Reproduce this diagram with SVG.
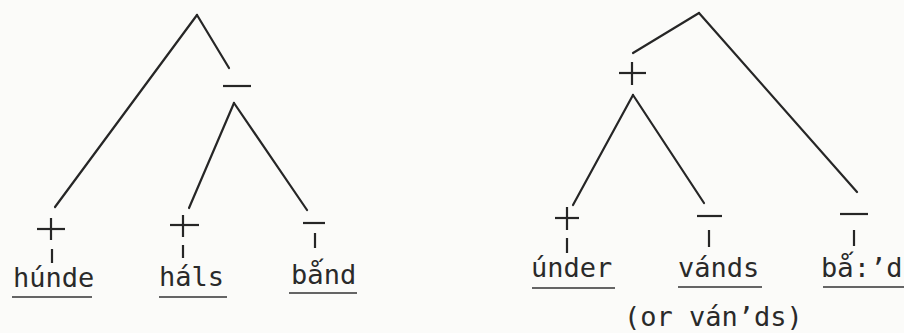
<svg xmlns="http://www.w3.org/2000/svg" width="904" height="333" viewBox="0 0 904 333">
<style>
.e{stroke:#262626;stroke-width:2.2;stroke-linecap:round;fill:none}
.m{stroke:#262626;stroke-width:2.2;stroke-linecap:butt;fill:none}
.u{stroke:#333;stroke-width:1.6;fill:none}
.t{font-family:"DejaVu Sans Mono","Liberation Mono",monospace;font-size:27px;fill:#2a2a2a}
.s{font-family:"DejaVu Sans","Noto Sans",sans-serif}
</style>
<rect width="904" height="333" fill="#fbfbf9"/>
<g id="connectors">
<line class="e" x1="197" y1="15" x2="55" y2="207"/>
<line class="e" x1="197" y1="15" x2="229" y2="68"/>
<line class="e" x1="234" y1="103" x2="189" y2="208"/>
<line class="e" x1="234" y1="103" x2="307" y2="210"/>
<line class="e" x1="699" y1="13" x2="633" y2="53"/>
<line class="e" x1="699" y1="13" x2="857" y2="192"/>
<line class="e" x1="633" y1="95" x2="573" y2="205"/>
<line class="e" x1="633" y1="95" x2="704" y2="203"/>
</g>
<g id="left-minus">
<line class="m" x1="223" y1="86" x2="251" y2="86"/>
</g>
<g id="hunde">
<line class="m" x1="37" y1="229" x2="65" y2="229"/>
<line class="m" x1="51" y1="218" x2="51" y2="240"/>
<line class="m" x1="52" y1="249" x2="52" y2="263"/>
<text class="t" x="13" y="287">húnde</text>
<line class="u" x1="12" y1="297" x2="92" y2="297"/>
</g>
<g id="hals">
<line class="m" x1="170" y1="225" x2="199" y2="225"/>
<line class="m" x1="183" y1="215" x2="183" y2="237"/>
<line class="m" x1="183" y1="245" x2="183" y2="258"/>
<text class="t" x="159" y="286">háls</text>
<line class="u" x1="159" y1="297" x2="227" y2="297"/>
</g>
<g id="band">
<line class="m" x1="303" y1="223" x2="325" y2="223"/>
<line class="m" x1="315" y1="233" x2="315" y2="248"/>
<text class="t" x="291" y="284">b<tspan class="s">ǻ</tspan>nd</text>
<line class="u" x1="289" y1="293" x2="357" y2="293"/>
</g>
<g id="right-plus">
<line class="m" x1="619" y1="73" x2="646" y2="73"/>
<line class="m" x1="632" y1="62" x2="632" y2="85"/>
</g>
<g id="under">
<line class="m" x1="555" y1="218" x2="579" y2="218"/>
<line class="m" x1="567" y1="207" x2="567" y2="230"/>
<line class="m" x1="567" y1="238" x2="567" y2="253"/>
<text class="t" x="531" y="277">únder</text>
<line class="u" x1="532" y1="288" x2="615" y2="288"/>
</g>
<g id="vands">
<line class="m" x1="697" y1="216" x2="722" y2="216"/>
<line class="m" x1="709" y1="230" x2="709" y2="247"/>
<text class="t" x="678" y="277">vánds</text>
<line class="u" x1="678" y1="287" x2="762" y2="287"/>
<text class="t" x="624" y="326">(or ván’ds)</text>
</g>
<g id="bad">
<line class="m" x1="840" y1="214" x2="868" y2="214"/>
<line class="m" x1="854" y1="230" x2="854" y2="246"/>
<text class="t" x="821" y="277">b<tspan class="s">ǻ</tspan>:’d</text>
<line class="u" x1="823" y1="287" x2="904" y2="287"/>
</g>
</svg>
